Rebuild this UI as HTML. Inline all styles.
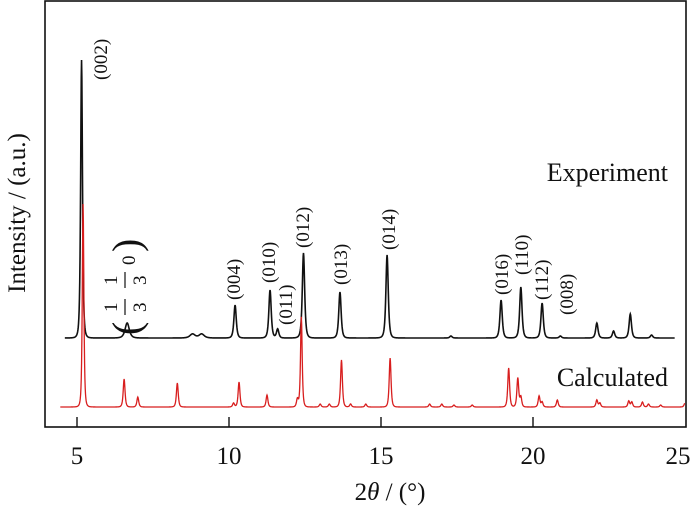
<!DOCTYPE html>
<html><head><meta charset="utf-8"><style>
html,body{margin:0;padding:0;background:#fff;}
svg text{font-family:"Liberation Serif","DejaVu Serif",serif;fill:#111;}
</style></head><body>
<svg id="s" width="700" height="507" viewBox="0 0 700 507" xmlns="http://www.w3.org/2000/svg" font-family="Liberation Serif, serif">
<rect x="45" y="1" width="641" height="426" fill="none" stroke="#111" stroke-width="1.6"/>
<g stroke="#111" stroke-width="1.4">
<line x1="77" y1="417" x2="77" y2="427"/><line x1="229" y1="417" x2="229" y2="427"/>
<line x1="381" y1="417" x2="381" y2="427"/><line x1="533" y1="417" x2="533" y2="427"/>
</g>
<g font-size="25" text-anchor="middle">
<text x="77" y="464">5</text><text x="229" y="464">10</text><text x="381" y="464">15</text><text x="533" y="464">20</text><text x="678" y="464">25</text>
</g>
<text x="390" y="500" font-size="25" text-anchor="middle">2<tspan font-style="italic">θ</tspan> / (°)</text>
<text transform="translate(25,213) rotate(-90)" font-size="25" text-anchor="middle">Intensity / (a.u.)</text>
<text x="668" y="181" font-size="26" text-anchor="end">Experiment</text>
<text x="668" y="386" font-size="26" text-anchor="end">Calculated</text>
<g font-size="19">
<text transform="translate(107,80) rotate(-90)">(002)</text>
<text transform="translate(240,300) rotate(-90)">(004)</text>
<text transform="translate(275,283) rotate(-90)">(010)</text>
<text transform="translate(292,325) rotate(-90)">(011)</text>
<text transform="translate(309,248) rotate(-90)">(012)</text>
<text transform="translate(347,285) rotate(-90)">(013)</text>
<text transform="translate(395,250) rotate(-90)">(014)</text>
<text transform="translate(508,295) rotate(-90)">(016)</text>
<text transform="translate(528,275) rotate(-90)">(110)</text>
<text transform="translate(548,300) rotate(-90)">(112)</text>
<text transform="translate(573,315) rotate(-90)">(008)</text>
</g>
<g transform="translate(150,337) rotate(-90)">
<text x="2" y="-10" font-size="40">(</text>
<text x="25" y="-33" font-size="19">1</text>
<text x="25" y="-4" font-size="19">3</text>
<line x1="22" y1="-25" x2="38" y2="-25" stroke="#111" stroke-width="1.2"/>
<text x="52" y="-33" font-size="19">1</text>
<text x="52" y="-4" font-size="19">3</text>
<line x1="49" y1="-25" x2="65" y2="-25" stroke="#111" stroke-width="1.2"/>
<text x="72" y="-15" font-size="19">0</text>
<text x="85" y="-10" font-size="40">)</text>
</g>
<path id="blk" fill="none" stroke="#111" stroke-width="1.6"/>
<path id="red" fill="none" stroke="#d81e1e" stroke-width="1.3"/>
</svg>
<script>
function X(v){return 77+(v-5)*30.4;}
function build(peaks,base,v0,v1,w0){
 let d="";
 for(let v=v0;v<=v1;v+=0.01){
  let h=0;
  for(const p of peaks){const w=(p[2]||w0)*1.55;const t=(v-p[0])/w;const q=1/(1+t*t);h+=p[1]*q*q;}
  d+=(d?"L":"M")+X(v).toFixed(2)+","+(base-h).toFixed(2);
 }
 return d;
}
const B=[[5.15,278,0.035],[6.65,15,0.08],[8.8,4,0.1],[9.1,4,0.1],[10.2,33],[11.35,48],[11.6,9],[12.45,85],[13.65,46],[15.2,83],[17.3,2],[18.95,38],[19.6,51],[20.3,35],[20.9,2],[22.1,15],[22.65,7],[23.2,24],[23.9,3]];
const R=[[5.2,203,0.03],[6.55,28],[7.0,10],[8.3,24],[10.15,4],[10.33,25],[11.25,12],[12.25,8],[12.38,90,0.032],[13.0,3],[13.3,3],[13.7,47],[14.0,3],[14.5,3],[15.3,49],[16.6,3],[17.0,3],[17.4,2],[18.0,2],[19.2,39],[19.5,29],[19.6,10],[20.2,11],[20.3,5],[20.8,7],[22.1,7],[22.2,4],[23.15,6],[23.25,5],[23.6,5],[23.8,3],[24.2,2],[25,4]];
document.getElementById("blk").setAttribute("d",build(B,338,4.6,24.67,0.045));
document.getElementById("red").setAttribute("d",build(R,407,4.45,25.0,0.035));
</script>
</body></html>
